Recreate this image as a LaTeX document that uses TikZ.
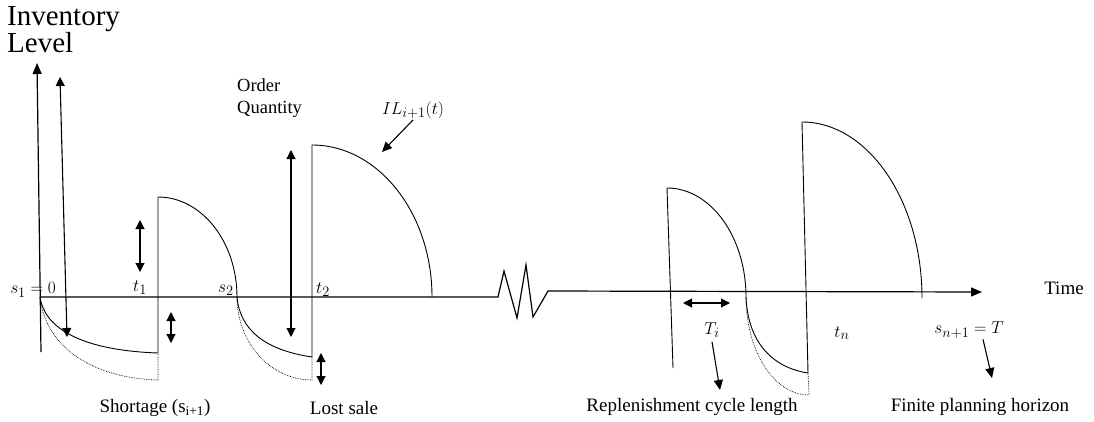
\documentclass[tikz,border=0pt]{standalone}
\usepackage{fontspec}
\setmainfont{Liberation Serif}
\usepackage{tikz}
\usetikzlibrary{positioning, arrows.meta}

\begin{document}
\begin{tikzpicture}[
    x=1pt, y=-1pt,
    curve/.style={
        line width=0.9pt
    },
    lost/.style={
        line width=0.7pt,
        densely dotted
    },
    axis/.style={
        line width=1.2pt,
        -{Triangle[length=11pt,width=9pt]}
    },
    arrow/.style={
        line width=1.1pt,
        -{Triangle[length=10pt,width=9pt]}
    },
    twoway/.style={
        line width=1.1pt,
        {Triangle[length=9pt,width=9pt]}-{Triangle[length=9pt,width=9pt]}
    },
    txt/.style={
        font=\fontsize{19}{22}\selectfont,
        inner sep=1pt
    },
    sym/.style={
        font=\fontsize{19}{21}\selectfont,
        inner sep=1pt
    }
]

\useasboundingbox (0,0) rectangle (1094,421);

\coordinate (s1) at (40,297);
\coordinate (t1) at (158,297);
\coordinate (s2) at (237,297);
\coordinate (t2) at (312,297);
\coordinate (e2) at (432,297);
\coordinate (cut) at (498,297);
\coordinate (restart) at (548,291);
\coordinate (end) at (982,292);

\node[txt, font=\fontsize{29}{25}\selectfont, align=left, anchor=north west] (invlevel) at (6,5) {Inventory\\Level};
\node[txt, align=left, anchor=west] (order) at (236,98) {\fontsize{18.5}{21}\selectfont Order\\ \fontsize{18.5}{21}\selectfont Quantity};
\node[sym] (il) at (413,110) {$IL_{i+1}(t)$};
\node[sym] (s1lbl) at (33,290) {$s_1=0$};
\node[sym] (t1lbl) at (140,288) {$t_1$};
\node[sym] (s2lbl) at (226,290) {$s_2$};
\node[sym] (t2lbl) at (323,290) {$t_2$};
\node[sym] (ti) at (712,330) {$T_i$};
\node[sym] (tn) at (842,333) {$t_n$};
\node[sym] (sT) at (969,330) {$s_{n+1}=T$};
\node[txt] (time) at (1064,288) {Time};
\node[txt] (shortage) at (155,408) {Shortage (s\textsubscript{i+1})};
\node[txt] (lostsale) at (344,408) {Lost sale};
\node[txt] (cycle) at (692,407) {Replenishment cycle length};
\node[txt] (horizon) at (980,407) {Finite planning horizon};

\draw[axis] (41,352) -- (37,63);
\draw[axis] (s1) -- (cut) -- (504,271) -- (517,318) -- (526,265) -- (533,317) -- (restart) -- (end);
\draw[twoway] (60,77) -- (67,337);

\draw[curve] (s1) .. controls (44,325) and (75,350) .. (158,353) -- (158,197)
    .. controls (201.6,197) and (237,241.8) .. (s2)
    .. controls (240,330) and (265,350) .. (312,357) -- (312,145)
    .. controls (378.2,145) and (432,213.1) .. (e2);
\draw[lost] (s1) .. controls (45,345) and (90,378) .. (158,380) -- (158,353);
\draw[lost] (s2) .. controls (237,342.8) and (270.6,380) .. (312,380) -- (312,357);

\draw[curve] (673,368) -- (667,188)
    .. controls (710.6,188) and (746,236.8) .. (746,297)
    .. controls (748,345) and (775,368) .. (808,373) -- (802,122)
    .. controls (868,122) and (922,201) .. (922,298);
\draw[lost] (746,297) .. controls (746,351) and (774,395) .. (809,395) -- (808,373);

\draw[twoway] (140,220) -- (140,272);
\draw[twoway] (171,312) -- (171,343);
\draw[twoway] (291,150) -- (291,337);
\draw[twoway] (321,353) -- (321,385);
\draw[twoway] (683,303) -- (730,303);

\coordinate (ilend) at (382,152);
\coordinate (tiend) at (720,390);
\coordinate (sTend) at (992,378);
\draw[arrow] (il.south) -- (ilend);
\draw[arrow] ([yshift=-3pt]ti.south) -- (tiend);
\draw[arrow] ([xshift=14pt]sT.south) -- (sTend);

\end{tikzpicture}
\end{document}
